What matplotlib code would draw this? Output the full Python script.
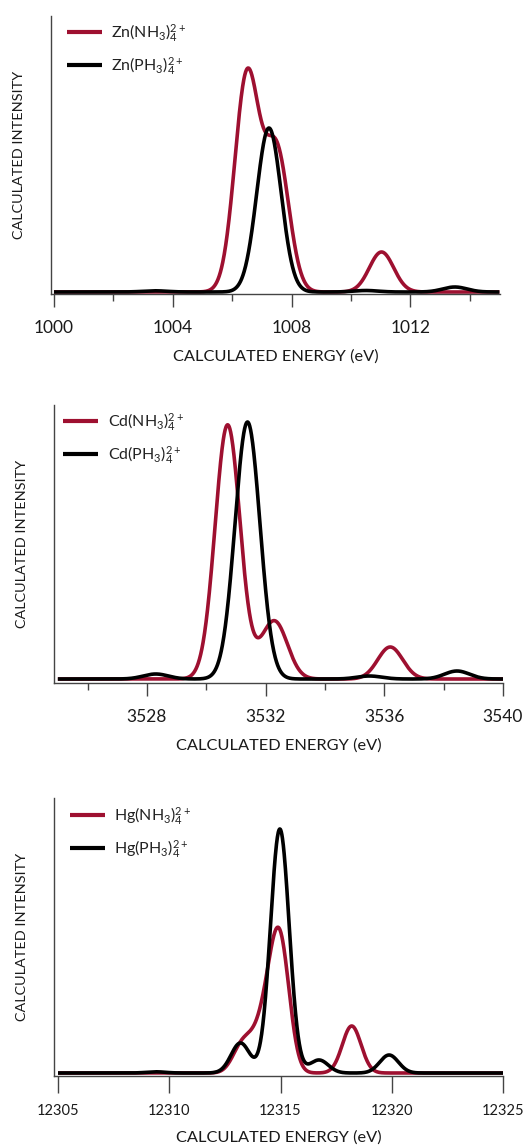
import numpy as np
import matplotlib
matplotlib.use('Agg')
import matplotlib.pyplot as plt

plt.rcParams['font.family'] = ['Lato', 'DejaVu Sans']
plt.rcParams['mathtext.default'] = 'regular'

ROJO = '#9e1030'
NEGRO = '#000000'

# Transiciones calculadas (energia en eV, intensidad relativa)
zn_nh3_energia = [1006.5, 1007.5, 1011.03]
zn_nh3_intensidad = [216, 140, 40]
zn_ph3_energia = [1003.4, 1007.24, 1010.5, 1013.5]
zn_ph3_intensidad = [1.2, 164, 1.5, 5]

cd_nh3_energia = [3530.72, 3531.95, 3532.35, 3536.2]
cd_nh3_intensidad = [254, 12, 50, 32]
cd_ph3_energia = [3528.3, 3531.39, 3535.5, 3538.45]
cd_ph3_intensidad = [5, 257, 3, 8]

hg_nh3_energia = [12313.25, 12313.85, 12314.45, 12315.0, 12318.2]
hg_nh3_intensidad = [25, 20, 50, 120, 47]
hg_ph3_energia = [12309.4, 12313.2, 12314.97, 12316.73, 12319.88]
hg_ph3_intensidad = [1.2, 30, 244, 13, 18]

# Ancho gaussiano (sigma, eV) de cada panel
zn_sigma = 0.41
cd_sigma = 0.42
hg_sigma = 0.42

# Rango de energias y ticks
zn_rango = (1000, 1015)
cd_rango = (3525, 3540)
hg_rango = (12305, 12325)
zn_ticks = [1000, 1004, 1008, 1012]
zn_menores = [1002, 1006, 1010, 1014]
cd_ticks = [3528, 3532, 3536, 3540]
cd_menores = [3526, 3530, 3534, 3538]
hg_ticks = [12305, 12310, 12315, 12320, 12325]


def espectro(x, energias, intensidades, sigma):
    y = np.zeros_like(x)
    for e, i in zip(energias, intensidades):
        y += i * np.exp(-(x - e) ** 2 / (2 * sigma ** 2))
    return y


def panel(ax, rango, xlim, ylim, sigma, datos, etiquetas, ticks, menores,
          largo_tick, pad, tam_ticks, leyenda_pos):
    x = np.linspace(rango[0], rango[1], 1500)
    colores = [ROJO, NEGRO]
    for (en, inten), etiqueta, color in zip(datos, etiquetas, colores):
        ax.plot(x, espectro(x, en, inten, sigma), color=color, lw=2.6,
                label=etiqueta, solid_capstyle='butt')

    ax.set_xlim(*xlim)
    ax.set_ylim(*ylim)
    ax.set_xticks(ticks)
    ax.set_xticks(menores, minor=True)
    ax.set_yticks([])
    for lado in ['top', 'right']:
        ax.spines[lado].set_visible(False)
    for lado in ['left', 'bottom']:
        ax.spines[lado].set_color('#444444')
        ax.spines[lado].set_linewidth(1.0)
    ax.tick_params(axis='x', which='major', direction='out', length=largo_tick,
                   width=1.0, color='#444444', pad=pad, labelsize=tam_ticks,
                   labelcolor='#1a1a1a')
    ax.tick_params(axis='x', which='minor', direction='out', length=5,
                   width=1.0, color='#444444')

    ax.set_xlabel('CALCULATED ENERGY (eV)', fontsize=11.8, color='#1a1a1a',
                  labelpad=9)
    ax.set_ylabel('CALCULATED INTENSITY', fontsize=10.4, color='#1a1a1a')
    ax.yaxis.set_label_coords(-0.058, 0.5)

    leg = ax.legend(loc='upper left', bbox_to_anchor=leyenda_pos, frameon=False,
                    fontsize=11.5, handlelength=2.2, handletextpad=0.6,
                    labelspacing=0.7, borderpad=0, borderaxespad=0)
    for linea in leg.get_lines():
        linea.set_linewidth(3)
    for t in leg.get_texts():
        t.set_color('#222222')


fig = plt.figure(figsize=(5.25, 11.47), dpi=100)
ax1 = fig.add_axes([51 / 525, 1 - 294 / 1147, 449 / 525, 278 / 1147])
ax2 = fig.add_axes([54 / 525, 1 - 683 / 1147, 449 / 525, 278 / 1147])
ax3 = fig.add_axes([54 / 525, 1 - 1076 / 1147, 449 / 525, 278 / 1147])

panel(ax1, zn_rango, (999.9, 1015.02), (-2, 276), zn_sigma,
      [(zn_nh3_energia, zn_nh3_intensidad), (zn_ph3_energia, zn_ph3_intensidad)],
      [r'Zn(NH$_3$)$_4^{2+}$', r'Zn(PH$_3$)$_4^{2+}$'],
      zn_ticks, zn_menores, 9, 10, 12.5, (0.035, 0.98))

panel(ax2, cd_rango, (3524.87, 3540.0), (-4, 274), cd_sigma,
      [(cd_nh3_energia, cd_nh3_intensidad), (cd_ph3_energia, cd_ph3_intensidad)],
      [r'Cd(NH$_3$)$_4^{2+}$', r'Cd(PH$_3$)$_4^{2+}$'],
      cd_ticks, cd_menores, 9, 10, 12.5, (0.02, 0.98))

panel(ax3, hg_rango, (12304.82, 12325.0), (-3, 275), hg_sigma,
      [(hg_nh3_energia, hg_nh3_intensidad), (hg_ph3_energia, hg_ph3_intensidad)],
      [r'Hg(NH$_3$)$_4^{2+}$', r'Hg(PH$_3$)$_4^{2+}$'],
      hg_ticks, [], 12, 8, 10.5, (0.035, 0.975))

fig.savefig('out.png', dpi=100)
